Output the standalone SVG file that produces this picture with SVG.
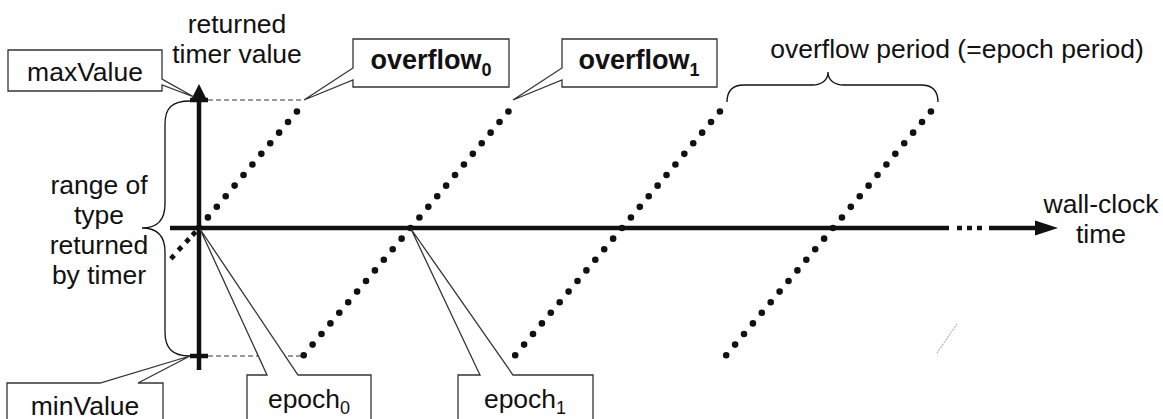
<svg xmlns="http://www.w3.org/2000/svg" width="1163" height="419" viewBox="0 0 1163 419">
  <style>
    text { font-family: "Liberation Sans", Arial, sans-serif; font-size: 26.5px; fill: #111; }
    .bold { font-weight: bold; font-size: 27px; }
    .sub { font-size: 18px; }
    .box { fill: #fff; stroke: #333; stroke-width: 1.3; }
    .brace { fill: none; stroke: #111; stroke-width: 1.3; }
    .axis { stroke: #111; stroke-width: 4.5; fill: none; }
    .ramp { stroke: #111; stroke-width: 6.6; stroke-linecap: round; stroke-dasharray: 0 13.84; fill: none; }
    .guide { stroke: #333; stroke-width: 1.2; stroke-dasharray: 5 3; fill: none; }
  </style>
  <defs>
    <rect id="diamond" x="-2.4" y="-2.4" width="4.8" height="4.8" transform="rotate(45)" fill="#111"/>
  </defs>
  <rect width="1163" height="419" fill="#fff"/>

  <!-- connectors: axes, ramps, guides, braces -->
  <g id="connectors">
    <!-- dashed guides from ticks to the ramp ends -->
    <line class="guide" x1="208" y1="100" x2="303" y2="100"/>
    <line class="guide" x1="208" y1="356" x2="303" y2="356"/>

    <!-- sawtooth of timer values (dotted ramps) -->
    <line class="ramp" x1="199" y1="228" x2="297.4" y2="110.9"/>
    <line class="ramp" x1="303.7" y1="355.2" x2="508.9" y2="110.9"/>
    <line class="ramp" x1="515.2" y1="355.2" x2="720.4" y2="110.9"/>
    <line class="ramp" x1="726.2" y1="355.2" x2="931.4" y2="110.9"/>
    <use href="#diamond" x="194" y="233.5"/>
    <use href="#diamond" x="187.5" y="240.5"/>
    <use href="#diamond" x="180" y="248.5"/>
    <use href="#diamond" x="172.5" y="257"/>

    <!-- vertical axis -->
    <line class="axis" x1="199" y1="370" x2="199" y2="97"/>
    <polygon points="191,100 199,84 207,100" fill="#111"/>
    <line class="axis" x1="190" y1="100" x2="208" y2="100"/>
    <line class="axis" x1="190" y1="356" x2="208" y2="356"/>

    <!-- horizontal axis -->
    <line class="axis" x1="170" y1="228" x2="949" y2="228"/>
    <line class="axis" x1="957" y1="228" x2="962" y2="228"/>
    <line class="axis" x1="967" y1="228" x2="972" y2="228"/>
    <line class="axis" x1="977" y1="228" x2="982" y2="228"/>
    <line class="axis" x1="989" y1="228" x2="1037" y2="228"/>
    <polygon points="1035,220.5 1058,228 1035,235.5" fill="#111"/>

    <!-- left brace: range of type -->
    <path class="brace" d="M190,101 C172,101 165,108 165,124 V204 C165,220 158,228 142,228 C158,228 165,236 165,252 V332 C165,348 172,356 190,356"/>
    <!-- top brace: overflow period -->
    <path class="brace" d="M727,102 C727,91 733,85 744,85 H812 C822,85 828,80 828,72 C828,80 834,85 844,85 H921 C932,85 938,91 938,102"/>

    <!-- faint stray tick -->
    <line x1="937" y1="353" x2="957" y2="324" stroke="#777" stroke-width="1" stroke-dasharray="1 1"/>
  </g>

  <!-- axis titles -->
  <g id="axis-y-title">
    <text x="237" y="33" text-anchor="middle">returned</text>
    <text x="237" y="63" text-anchor="middle">timer value</text>
  </g>
  <g id="axis-x-title">
    <text x="1101" y="213" text-anchor="middle">wall-clock</text>
    <text x="1101" y="243" text-anchor="middle">time</text>
  </g>
  <g id="range-label">
    <text x="99" y="194" text-anchor="middle">range of</text>
    <text x="99" y="224" text-anchor="middle">type</text>
    <text x="99" y="254" text-anchor="middle">returned</text>
    <text x="99" y="284" text-anchor="middle">by timer</text>
  </g>
  <g id="period-label">
    <text x="957" y="58" text-anchor="middle">overflow period (=epoch period)</text>
  </g>

  <!-- callouts -->
  <g id="maxValue">
    <path class="box" d="M8,50 H162 V79 L194,97 L162,85 V91 H8 Z"/>
    <text x="85" y="81" text-anchor="middle">maxValue</text>
  </g>
  <g id="minValue">
    <path class="box" d="M7,383 H100 L190,356 L138,383 H163 V430 H7 Z"/>
    <text x="85" y="415" text-anchor="middle">minValue</text>
  </g>
  <g id="overflow0">
    <path class="box" d="M353,39 H509 V87 H353 V80 L304,100 L353,68 Z"/>
    <text x="431" y="69" text-anchor="middle" class="bold">overflow<tspan class="sub" dy="7">0</tspan></text>
  </g>
  <g id="overflow1">
    <path class="box" d="M562,39 H717 V87 H562 V80 L513,100 L562,68 Z"/>
    <text x="639" y="69" text-anchor="middle" class="bold">overflow<tspan class="sub" dy="7">1</tspan></text>
  </g>
  <g id="epoch0">
    <path class="box" d="M247,375 H267 L200,229 L298,375 H371 V430 H247 Z"/>
    <text x="309" y="408" text-anchor="middle">epoch<tspan class="sub" dy="6">0</tspan></text>
  </g>
  <g id="epoch1">
    <path class="box" d="M458,375 H480 L411,229 L513,375 H593 V430 H458 Z"/>
    <text x="525" y="408" text-anchor="middle">epoch<tspan class="sub" dy="6">1</tspan></text>
  </g>
</svg>
